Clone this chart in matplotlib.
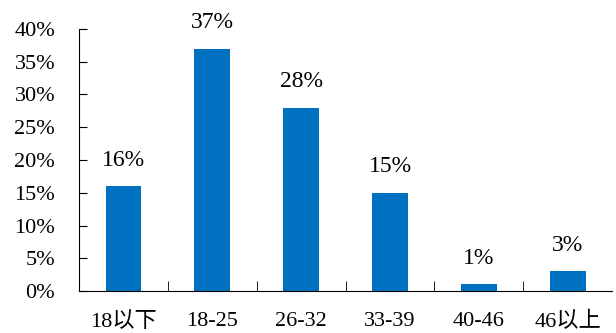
import matplotlib.pyplot as plt
import numpy as np
from matplotlib.ticker import FuncFormatter

plt.rcParams['font.family'] = ['Liberation Serif', 'Noto Sans CJK SC', 'DejaVu Sans']

categories = ["18以下", "18-25", "26-32", "33-39", "40-46", "46以上"]
shares = [16, 37, 28, 15, 1, 3]

fig = plt.figure(figsize=(6.16, 3.33), dpi=100)
ax = fig.add_axes([0.128, 0.126, 0.866, 0.787])

x = np.arange(len(categories))
bars = ax.bar(x, [v / 100 for v in shares], width=0.4, color="#0070C0")

for b, v in zip(bars, shares):
    ax.annotate(f"{v}%", (b.get_x() + b.get_width() / 2, b.get_height()),
                xytext=(0, 11), textcoords="offset points",
                ha="center", va="bottom", fontsize=17)

ax.set_xlim(-0.5, len(categories) - 0.5)
ax.set_ylim(0, 0.4)
ax.set_yticks(np.arange(0, 0.41, 0.05))
ax.yaxis.set_major_formatter(FuncFormatter(lambda v, p: f"{v * 100:.0f}%"))
ax.set_xticks(x)
ax.set_xticklabels(categories)
ax.set_xticks(np.arange(0.5, len(categories) - 0.5, 1), minor=True)
ax.tick_params(axis="x", which="major", length=0, pad=15, labelsize=16)
ax.tick_params(axis="x", which="minor", direction="in", length=7)
ax.tick_params(axis="y", direction="in", length=6, labelsize=16, pad=17)

for s in ["top", "right"]:
    ax.spines[s].set_visible(False)

fig.savefig("out.png", dpi=100)
